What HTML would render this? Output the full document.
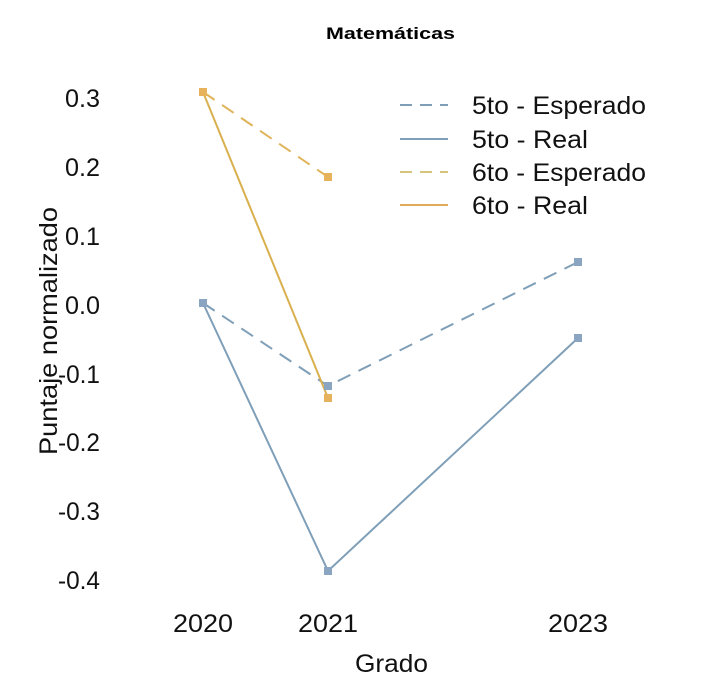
<!DOCTYPE html>
<html><head><meta charset="utf-8"><style>
html,body{margin:0;padding:0;background:#fff;}
svg{display:block;font-family:"Liberation Sans",sans-serif;}
</style></head><body>
<svg width="712" height="688" viewBox="0 0 712 688" xmlns="http://www.w3.org/2000/svg">
<rect width="712" height="688" fill="#fff"/>
<text x="326" y="39" font-size="17" font-weight="bold" textLength="129" lengthAdjust="spacingAndGlyphs">Matemáticas</text>
<g font-size="25" fill="#111">
<text x="65" y="107" textLength="35" lengthAdjust="spacingAndGlyphs">0.3</text>
<text x="65" y="176" textLength="35" lengthAdjust="spacingAndGlyphs">0.2</text>
<text x="65" y="245" textLength="35" lengthAdjust="spacingAndGlyphs">0.1</text>
<text x="65" y="314" textLength="35" lengthAdjust="spacingAndGlyphs">0.0</text>
<text x="58" y="383" textLength="42" lengthAdjust="spacingAndGlyphs">-0.1</text>
<text x="58" y="451" textLength="42" lengthAdjust="spacingAndGlyphs">-0.2</text>
<text x="58" y="520" textLength="42" lengthAdjust="spacingAndGlyphs">-0.3</text>
<text x="58" y="589" textLength="42" lengthAdjust="spacingAndGlyphs">-0.4</text>
</g>
<g font-size="25" fill="#111">
<text x="173" y="632" textLength="60" lengthAdjust="spacingAndGlyphs">2020</text>
<text x="298" y="632" textLength="60" lengthAdjust="spacingAndGlyphs">2021</text>
<text x="548" y="632" textLength="60" lengthAdjust="spacingAndGlyphs">2023</text>
<text x="355" y="672" textLength="73" lengthAdjust="spacingAndGlyphs">Grado</text>
</g>
<text transform="translate(57,455) rotate(-90)" font-size="25" fill="#111" textLength="248" lengthAdjust="spacingAndGlyphs">Puntaje normalizado</text>
<g fill="none" stroke-width="2">
<polyline points="203,303 328,386 578,262" stroke="#7f9fb8" stroke-dasharray="14,9"/>
<polyline points="203,303 328,571 578,338" stroke="#7f9fb8"/>
<polyline points="203,92 328,177" stroke="#e0b45a" stroke-dasharray="14,9"/>
<polyline points="203,92 328,398" stroke="#d9b04f"/>
</g>
<g fill="#8aa5c2">
<rect x="199" y="299" width="8" height="8"/>
<rect x="324" y="382" width="8" height="8"/>
<rect x="574" y="258" width="8" height="8"/>
<rect x="324" y="567" width="8" height="8"/>
<rect x="574" y="334" width="8" height="8"/>
</g>
<g fill="#e6b35c">
<rect x="199" y="88" width="8" height="8"/>
<rect x="324" y="173" width="8" height="8"/>
<rect x="324" y="394" width="8" height="8"/>
</g>
<g stroke-width="2">
<line x1="400" y1="105" x2="448" y2="105" stroke="#7f9fb8" stroke-dasharray="12,8"/>
<line x1="400" y1="139" x2="448" y2="139" stroke="#7f9fb8"/>
<line x1="400" y1="172" x2="448" y2="172" stroke="#d7c37a" stroke-dasharray="12,8"/>
<line x1="400" y1="205" x2="448" y2="205" stroke="#e0ac5a"/>
</g>
<g font-size="25" fill="#111">
<text x="472" y="114" textLength="174" lengthAdjust="spacingAndGlyphs">5to - Esperado</text>
<text x="472" y="148" textLength="116" lengthAdjust="spacingAndGlyphs">5to - Real</text>
<text x="472" y="181" textLength="174" lengthAdjust="spacingAndGlyphs">6to - Esperado</text>
<text x="472" y="214" textLength="116" lengthAdjust="spacingAndGlyphs">6to - Real</text>
</g>
</svg>
</body></html>
